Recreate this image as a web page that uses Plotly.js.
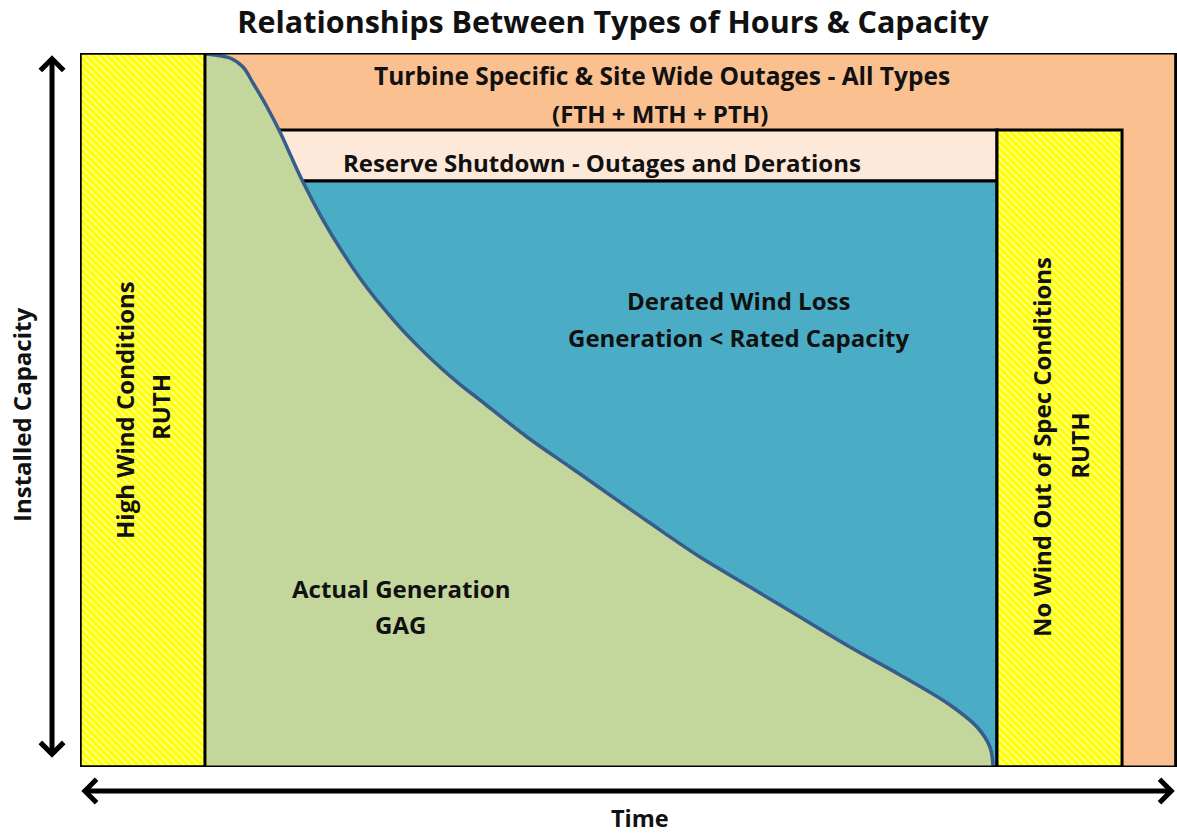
<!DOCTYPE html>
<html>
<head>
<meta charset="utf-8">
<script src="https://cdn.plot.ly/plotly-3.0.1.min.js"></script>
<style>html,body{margin:0;padding:0;background:#fff;}#chart{width:1177px;height:834px;}</style>
</head>
<body>
<div id="chart"></div>
<script>
// Time axis (% of period) and capacity axis (% of installed capacity)
const curveTime = [11.39, 12.31, 13.67, 14.86, 15.77, 17.05, 18.23, 19.23, 20.24, 22.04, 23.85, 25.64, 27.45, 29.25, 31.06, 32.85, 34.66, 36.46, 40.75, 44.67, 47.40, 51.96, 56.52, 61.08, 65.63, 70.19, 74.75, 79.31, 81.77, 82.95, 83.23];
const curveCap  = [99.86, 99.72, 99.30, 98.04, 95.80, 92.44, 88.94, 85.57, 82.21, 76.92, 72.30, 68.22, 64.64, 61.43, 58.56, 55.95, 53.56, 51.40, 46.22, 42.02, 39.08, 34.17, 29.41, 25.21, 21.01, 16.81, 12.89, 8.68, 5.60, 2.80, 0.00];

const highWindSpan = [0, 11.39];      // time span of high wind RUTH
const noWindSpan   = [83.59, 94.99];  // time span of no wind / out of spec RUTH
const reserveCap   = [82.07, 89.22];  // capacity band of reserve shutdown
const fullCap      = [0, 100];
const fullTime     = [0, 100];

const titleText = 'Relationships Between Types of Hours & Capacity';
const yLabel = 'Installed Capacity';
const xLabel = 'Time';

const FONT = '"Open Sans", Lato, sans-serif';
const ink = '#111111';
const LS = 24;

function boxX(span){ return [span[0], span[1], span[1], span[0], span[0]]; }
function boxY(span){ return [span[0], span[0], span[1], span[1], span[0]]; }

const hatch = {shape: '\\', bgcolor: '#FFFF00', fgcolor: '#FFFFA8', size: 5, solidity: 0.3, fillmode: 'replace'};

const traces = [
  {
    type: 'scatter', mode: 'lines', x: curveTime, y: curveCap,
    line: {color: '#385D8A', width: 3.5, shape: 'spline', smoothing: 1},
    fill: 'tozeroy', fillcolor: '#C3D69B', hoverinfo: 'skip', showlegend: false
  },
  {
    type: 'scatter', mode: 'lines', x: boxX(highWindSpan), y: boxY(fullCap),
    fill: 'toself', fillcolor: '#FFFF00', fillpattern: hatch,
    line: {color: '#000', width: 3}, hoverinfo: 'skip', showlegend: false
  },
  {
    type: 'scatter', mode: 'lines', x: boxX(noWindSpan), y: boxY([fullCap[0], reserveCap[1]]),
    fill: 'toself', fillcolor: '#FFFF00', fillpattern: hatch,
    line: {color: '#000', width: 3}, hoverinfo: 'skip', showlegend: false
  }
];

const shapes = [
  {type: 'rect', layer: 'below', xref: 'x', yref: 'y', x0: highWindSpan[1], x1: fullTime[1], y0: fullCap[0], y1: fullCap[1],
   fillcolor: '#FAC090', line: {width: 0}},
  {type: 'rect', layer: 'below', xref: 'x', yref: 'y', x0: highWindSpan[1], x1: noWindSpan[0], y0: reserveCap[0], y1: reserveCap[1],
   fillcolor: '#FDE9D9', line: {color: '#000', width: 3}},
  {type: 'rect', layer: 'below', xref: 'x', yref: 'y', x0: highWindSpan[1], x1: noWindSpan[0], y0: fullCap[0], y1: reserveCap[0],
   fillcolor: '#4BACC6', line: {color: '#000', width: 3}},
  {type: 'rect', layer: 'above', xref: 'x', yref: 'y', x0: fullTime[0], x1: fullTime[1] - 0.12, y0: fullCap[0], y1: fullCap[1],
   fillcolor: 'rgba(0,0,0,0)', line: {color: '#000', width: 3}}
];

function lab(text, x, y, size, angle){
  return {text: '<b>' + text + '</b>', x: x, y: y, xref: 'x', yref: 'y', showarrow: false,
          textangle: angle || 0, font: {family: FONT, size: size, color: ink}, xanchor: 'center', yanchor: 'middle'};
}

const annotations = [
  lab('Turbine Specific &amp; Site Wide Outages - All Types', 53.05, 96.78, 24.5),
  lab('(FTH + MTH + PTH)', 52.87, 91.46, LS),
  lab('Reserve Shutdown - Outages and Derations', 47.58, 84.73, LS),
  lab('Derated Wind Loss', 60.07, 65.27, LS),
  lab('Generation &lt; Rated Capacity', 60.07, 60.22, LS),
  lab('Actual Generation', 29.26, 25.07, LS),
  lab('GAG', 29.26, 19.89, LS),
  lab('High Wind Conditions', 4.01, 50.0, LS, -90),
  lab('RUTH', 7.29, 50.4, LS, -90),
  lab('No Wind Out of Spec Conditions', 87.6, 44.8, LS, -90),
  lab('RUTH', 91.16, 45.0, LS, -90),
  {text: '<b>' + yLabel + '</b>', x: -0.0529, y: 0.493, xref: 'paper', yref: 'paper', showarrow: false,
   xanchor: 'center', yanchor: 'middle', textangle: -90, font: {family: FONT, size: 24, color: ink}},
  {text: '<b>' + xLabel + '</b>', x: 0.5105, y: -0.0714, xref: 'paper', yref: 'paper', showarrow: false,
   xanchor: 'center', yanchor: 'middle', font: {family: FONT, size: 23.5, color: ink}},
  // double-headed axis arrows
  {text: '', x: -0.0255, y: 0.997, xref: 'paper', yref: 'paper', ax: 0, ay: 704, axref: 'pixel', ayref: 'pixel',
   showarrow: true, arrowhead: 4, startarrowhead: 4, arrowside: 'end+start', arrowwidth: 5, arrowsize: 0.9, startarrowsize: 0.9, arrowcolor: '#000'},
  {text: '', x: 0.998, y: -0.0336, xref: 'paper', yref: 'paper', ax: -1095, ay: 0, axref: 'pixel', ayref: 'pixel',
   showarrow: true, arrowhead: 4, startarrowhead: 4, arrowside: 'end+start', arrowwidth: 5, arrowsize: 0.9, startarrowsize: 0.9, arrowcolor: '#000'}
];

const layout = {
  width: 1177, height: 834,
  margin: {l: 80, r: 0, t: 53, b: 67, pad: 0},
  paper_bgcolor: '#fff', plot_bgcolor: '#fff',
  title: {text: '<b>' + titleText + '</b>', x: 0.5208, xanchor: 'center', xref: 'container', y: 0.9736, yref: 'container', yanchor: 'middle',
          font: {family: FONT, size: 30.5, color: ink}},
  xaxis: {range: fullTime, visible: false, fixedrange: true},
  yaxis: {range: fullCap, visible: false, fixedrange: true},
  showlegend: false, hovermode: false,
  shapes: shapes, annotations: annotations
};

Plotly.newPlot('chart', traces, layout, {staticPlot: true, displayModeBar: false});
</script>
</body>
</html>
